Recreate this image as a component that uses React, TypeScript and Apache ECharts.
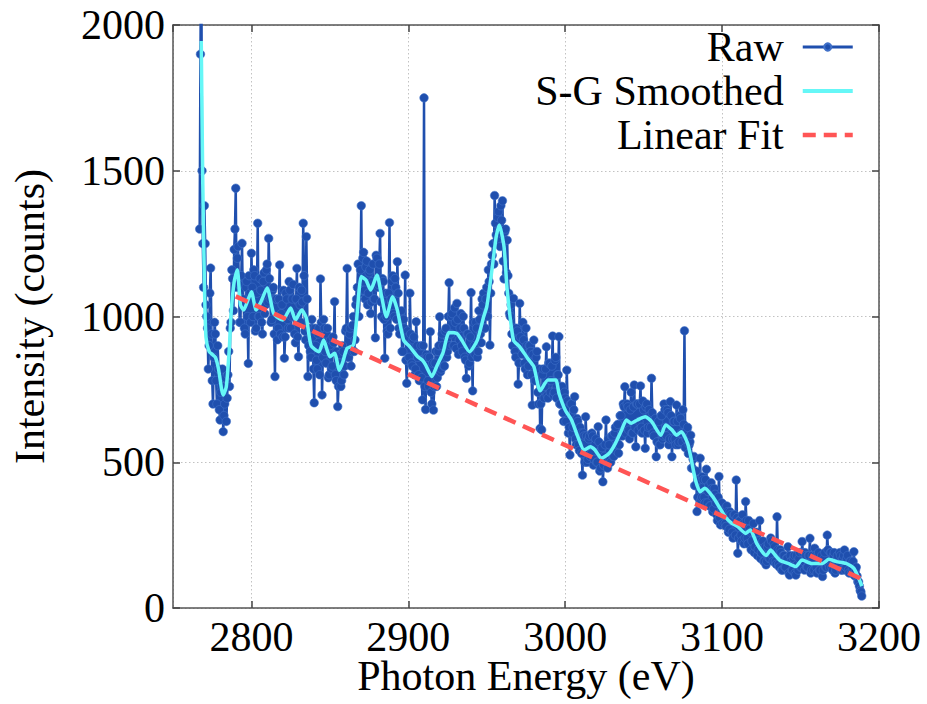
import React, { useEffect, useRef } from "react";
import * as echarts from "echarts";

const FONT = "Liberation Serif";

// Raw spectrum, whole-eV samples: energies start at RAW_START eV, 1 eV steps
const RAW_START = 2767;
const rawCounts = [
  1300, 2350, 1250, 1380, 1040, 960, 900, 1166, 780, 860,
  940, 700, 820, 645, 760, 605, 700, 640, 800, 760,
  980, 1130, 1230, 1440, 1200, 1110, 980, 1251, 1050, 940,
  1120, 839, 1080, 1217, 1000, 1140, 960, 1320, 1000, 1090,
  940, 1150, 1040, 1180, 1268, 1060, 990, 1100, 794, 1060,
  960, 1177, 1010, 930, 857, 1080, 990, 1120, 960, 1060,
  1000, 910, 1165, 862, 1040, 1090, 1320, 950, 1274, 794,
  960, 860, 930, 704, 900, 820, 960, 1129, 731, 990,
  880, 940, 790, 900, 820, 930, 1051, 780, 691, 840,
  760, 900, 800, 950, 1165, 860, 960, 880, 1000, 920,
  1060, 1180, 1080, 1380, 1200, 1090, 1170, 1040, 1150, 1010,
  1120, 1060, 927, 1200, 1110, 1285, 1000, 1120, 857, 1000,
  940, 1322, 1060, 1140, 1000, 1100, 1188, 960, 1010, 880,
  990, 1142, 771, 930, 1080, 840, 920, 800, 982, 860,
  780, 900, 714, 1750, 681, 860, 760, 948, 700, 679,
  840, 760, 880, 999, 820, 900, 830, 960, 880, 1116,
  940, 1010, 900, 980, 1045, 870, 960, 900, 1000, 860,
  788, 940, 840, 1082, 745, 900, 980, 860, 1020, 940,
  1060, 1080, 960, 1100, 1160, 902, 1180, 1250, 1415, 1280,
  1340, 1300, 1380, 1397, 1129, 1300, 1262, 1080, 1000, 940,
  1062, 880, 960, 768, 1045, 900, 980, 840, 960, 800,
  900, 880, 696, 919, 780, 880, 700, 616, 611, 820,
  760, 896, 720, 840, 780, 933, 740, 860, 800, 931,
  700, 760, 640, 720, 816, 600, 525, 700, 620, 725,
  560, 640, 540, 600, 456, 590, 656, 500, 580, 520,
  600, 490, 560, 500, 622, 470, 540, 433, 520, 645,
  480, 560, 500, 590, 520, 620, 560, 531, 660, 600,
  700, 759, 620, 690, 580, 740, 600, 765, 553, 700,
  640, 762, 600, 680, 548, 700, 620, 660, 788, 600,
  640, 519, 620, 560, 660, 580, 700, 620, 680, 560,
  708, 519, 640, 580, 696, 560, 660, 600, 680, 951,
  580, 620, 560, 593, 480, 520, 420, 331, 440, 514,
  380, 440, 360, 476, 400, 350, 430, 330, 410, 360,
  300, 451, 285, 360, 320, 290, 350, 260, 330, 300,
  240, 320, 439, 188, 300, 250, 320, 220, 365, 240,
  300, 260, 230, 290, 210, 260, 200, 300, 189, 230,
  160, 148, 210, 170, 240, 180, 220, 160, 313, 150,
  200, 130, 180, 140, 170, 210, 113, 160, 130, 180,
  113, 150, 170, 140, 228, 160, 190, 140, 180, 239,
  130, 170, 205, 140, 180, 130, 160, 108, 170, 140,
  250, 150, 190, 140, 180, 120, 170, 150, 190, 130,
  170, 199, 140, 180, 120, 160, 140, 193, 130, 110,
  90, 60, 41,
];

// Raw spectrum, half-eV samples: energies RAW_START + 0.5, 1 eV steps
const rawCountsHalf = [
  1900, 1500, 1100, 1250, 1000, 820, 1080, 940, 700, 980,
  780, 900, 680, 740, 820, 660, 790, 720, 880, 960,
  1160, 1020, 1300, 1100, 1240, 980, 1140, 1060, 960, 1100,
  1000, 1140, 980, 1100, 1160, 950, 1080, 1000, 1130, 980,
  1120, 1010, 1160, 1050, 1130, 980, 1090, 940, 1060, 920,
  1060, 940, 1040, 1090, 930, 1060, 960, 1090, 1000, 1110,
  940, 1060, 930, 1100, 980, 1050, 1140, 920, 1060, 900,
  880, 990, 820, 960, 850, 940, 800, 980, 860, 960,
  840, 960, 800, 920, 830, 910, 800, 880, 760, 870,
  780, 880, 830, 960, 860, 940, 830, 970, 880, 1040,
  1100, 1000, 1160, 1090, 1220, 1060, 1190, 1080, 1160, 1050,
  1180, 1060, 1210, 1100, 1180, 1050, 1130, 990, 1080, 950,
  1080, 960, 1120, 1010, 1130, 990, 1080, 940, 1020, 880,
  960, 850, 950, 860, 940, 830, 930, 820, 900, 800,
  880, 790, 900, 760, 870, 780, 860, 740, 840, 760,
  880, 790, 900, 810, 940, 830, 950, 860, 1000, 900,
  1000, 900, 1030, 890, 990, 920, 1010, 880, 960, 850,
  940, 830, 930, 860, 980, 870, 960, 880, 990, 910,
  1040, 960, 1060, 1000, 1120, 1080, 1210, 1180, 1320, 1260,
  1360, 1240, 1330, 1190, 1290, 1150, 1140, 1010, 1040, 900,
  960, 860, 950, 840, 930, 870, 920, 820, 900, 830,
  900, 800, 870, 780, 860, 740, 820, 700, 800, 720,
  820, 730, 840, 740, 830, 730, 850, 720, 800, 700,
  760, 670, 740, 640, 710, 620, 700, 600, 680, 580,
  650, 560, 620, 530, 600, 500, 590, 510, 590, 530,
  590, 510, 580, 500, 570, 480, 550, 490, 560, 500,
  580, 510, 590, 520, 600, 540, 630, 560, 660, 590,
  690, 600, 700, 610, 680, 600, 690, 620, 700, 610,
  700, 620, 710, 610, 690, 600, 680, 620, 670, 590,
  650, 570, 640, 560, 660, 590, 680, 590, 670, 580,
  660, 580, 640, 560, 640, 570, 650, 570, 630, 550,
  610, 530, 570, 480, 510, 420, 470, 380, 440, 370,
  450, 380, 440, 360, 420, 350, 410, 340, 390, 320,
  380, 310, 360, 290, 340, 280, 330, 270, 320, 260,
  320, 250, 310, 240, 300, 230, 290, 240, 300, 220,
  270, 200, 260, 190, 250, 180, 230, 170, 220, 160,
  210, 160, 220, 170, 230, 160, 210, 150, 200, 140,
  190, 130, 180, 140, 170, 120, 180, 130, 170, 120,
  180, 130, 190, 140, 190, 130, 180, 140, 180, 120,
  180, 130, 180, 120, 190, 130, 180, 130, 190, 140,
  200, 140, 190, 130, 190, 130, 180, 140, 180, 130,
  180, 130, 170, 130, 160, 120, 160, 110, 140, 90,
  75, 55,
];

// Savitzky-Golay smoothed curve
const smoothEnergy = [
  2768, 2769, 2770, 2771, 2773, 2775, 2777, 2779, 2781, 2782,
  2784, 2786, 2787, 2789, 2791, 2793, 2795, 2798, 2800, 2803,
  2806, 2810, 2814, 2817, 2820, 2825, 2828, 2832, 2835, 2838,
  2843, 2846, 2850, 2853, 2856, 2858, 2861, 2865, 2867, 2870,
  2873, 2876, 2880, 2883, 2886, 2890, 2893, 2897, 2901, 2906,
  2909, 2911, 2915, 2918, 2922, 2926, 2931, 2934, 2939, 2944,
  2948, 2950, 2953, 2956, 2958, 2961, 2963, 2967, 2971, 2976,
  2980, 2984, 2989, 2994, 2996, 3000, 3004, 3008, 3012, 3016,
  3019, 3023, 3028, 3032, 3036, 3039, 3042, 3046, 3051, 3055,
  3061, 3064, 3068, 3071, 3074, 3078, 3080, 3083, 3086, 3089,
  3094, 3098, 3102, 3106, 3110, 3115, 3118, 3122, 3126, 3128,
  3131, 3134, 3137, 3142, 3147, 3151, 3157, 3164, 3168, 3173,
  3179, 3184, 3188, 3189,
];
const smoothCounts = [
  1945, 1450, 1120, 930, 880, 870, 860, 820, 750, 731,
  760, 900, 1010, 1120, 1160, 1040, 1022, 1060, 1085, 1022,
  1050, 1098, 1012, 995, 988, 1029, 988, 1022, 995, 900,
  879, 919, 862, 874, 816, 840, 891, 902, 988, 1137,
  1125, 1091, 1142, 1068, 999, 1068, 1022, 919, 896, 862,
  850, 834, 794, 828, 874, 945, 942, 919, 879, 919,
  999, 1034, 1148, 1274, 1314, 1239, 1091, 919, 896, 857,
  828, 745, 782, 782, 737, 679, 645, 588, 542, 553,
  542, 514, 531, 565, 611, 645, 634, 645, 656, 640,
  593, 628, 611, 593, 605, 565, 519, 439, 399, 411,
  382, 348, 313, 291, 279, 256, 268, 222, 190, 180,
  199, 180, 163, 153, 142, 165, 153, 153, 167, 159,
  153, 136, 90, 75,
];

// Linear fit endpoints
const fitEnergy = [2790, 3188];
const fitCounts = [1069, 102];

const xTicks = [2800, 2900, 3000, 3100, 3200];
const yTicks = [0, 500, 1000, 1500, 2000];

export default function App() {
  const ref = useRef<HTMLDivElement>(null);

  useEffect(() => {
    document.body.style.margin = "0";
    if (!ref.current) return;
    const chart = echarts.init(ref.current, undefined, { renderer: "svg" });

    const rawData: number[][] = [];
    rawCounts.forEach((v, i) => {
      rawData.push([RAW_START + i, v]);
      if (i < rawCountsHalf.length) rawData.push([RAW_START + i + 0.5, rawCountsHalf[i]]);
    });
    const smoothData = smoothEnergy.map((e, i) => [e, smoothCounts[i]]);
    const fitData = fitEnergy.map((e, i) => [e, fitCounts[i]]);

    const axisLine = { show: true, onZero: false, lineStyle: { color: "#555", width: 1.5 } };
    const tick = { show: true, inside: true, length: 7, lineStyle: { color: "#444", width: 1.5 } };
    const split = { show: true, lineStyle: { color: "#c2c2c2", width: 1, type: [1.5, 2.5] } };
    const labelStyle = { fontSize: 42, fontFamily: FONT, color: "#000" };

    chart.setOption({
      animation: false,
      backgroundColor: "#fff",
      grid: { left: 173, right: 48, top: 25, bottom: 96, containLabel: false, outerBoundsMode: "none" },
      legend: {
        orient: "vertical",
        right: 67,
        top: 21,
        align: "right",
        itemWidth: 50,
        itemHeight: 9,
        itemGap: 2,
        textStyle: { ...labelStyle, lineHeight: 42, padding: [0, 14, 0, 0] },
        data: [
          { name: "Raw", lineStyle: { width: 3 } },
          { name: "S-G Smoothed", itemStyle: { opacity: 0 }, lineStyle: { width: 4 } },
          { name: "Linear Fit", itemStyle: { opacity: 0 }, lineStyle: { width: 4.5, type: [13, 8] } },
        ],
      },
      xAxis: [
        {
          type: "value",
          min: 2750,
          max: 3200,
          minInterval: 100,
          maxInterval: 100,
          position: "bottom",
          axisLine,
          axisTick: tick,
          axisLabel: { ...labelStyle, margin: 8, showMinLabel: false, formatter: (v: number) => (xTicks.includes(v) ? String(v) : "") },
          splitLine: split,
          name: "Photon Energy (eV)",
          nameLocation: "middle",
          nameGap: 48,
          nameMoveOverlap: false,
          nameTextStyle: { ...labelStyle, lineHeight: 40 },
        },
        {
          type: "value",
          min: 2750,
          max: 3200,
          minInterval: 100,
          maxInterval: 100,
          position: "top",
          axisLine,
          axisTick: tick,
          axisLabel: { show: false },
          splitLine: { show: false },
        },
      ],
      yAxis: [
        {
          type: "value",
          min: 0,
          max: 2000,
          interval: 500,
          position: "left",
          axisLine,
          axisTick: tick,
          axisLabel: { ...labelStyle, margin: 8, formatter: (v: number) => (yTicks.includes(v) ? String(v) : "") },
          splitLine: split,
          name: "Intensity (counts)",
          nameLocation: "middle",
          nameGap: 122,
          nameMoveOverlap: false,
          nameTextStyle: labelStyle,
        },
        {
          type: "value",
          min: 0,
          max: 2000,
          interval: 500,
          position: "right",
          axisLine,
          axisTick: tick,
          axisLabel: { show: false },
          splitLine: { show: false },
        },
      ],
      series: [
        {
          name: "Raw",
          type: "line",
          xAxisIndex: 0,
          yAxisIndex: 0,
          data: rawData,
          symbol: "circle",
          symbolSize: 8.5,
          showAllSymbol: true,
          clip: true,
          lineStyle: { color: "#1f4fae", width: 2.5 },
          itemStyle: { color: "#1f4fae", borderColor: "#4070c8", borderWidth: 0.6 },
          emphasis: { disabled: true },
          z: 2,
        },
        {
          name: "S-G Smoothed",
          type: "line",
          xAxisIndex: 0,
          yAxisIndex: 0,
          data: smoothData,
          symbol: "none",
          smooth: 0.2,
          clip: true,
          lineStyle: { color: "#66f7f7", width: 3.5 },
          itemStyle: { color: "#66f7f7" },
          emphasis: { disabled: true },
          z: 3,
        },
        {
          name: "Linear Fit",
          type: "line",
          xAxisIndex: 0,
          yAxisIndex: 0,
          data: fitData,
          symbol: "none",
          lineStyle: { color: "#ff5555", width: 4.5, type: [13, 8] },
          itemStyle: { color: "#ff5555" },
          emphasis: { disabled: true },
          z: 4,
        },
      ],
    });

    return () => chart.dispose();
  }, []);

  return <div ref={ref} style={{ position: "absolute", left: 0, top: 0, width: 927, height: 704 }} />;
}
